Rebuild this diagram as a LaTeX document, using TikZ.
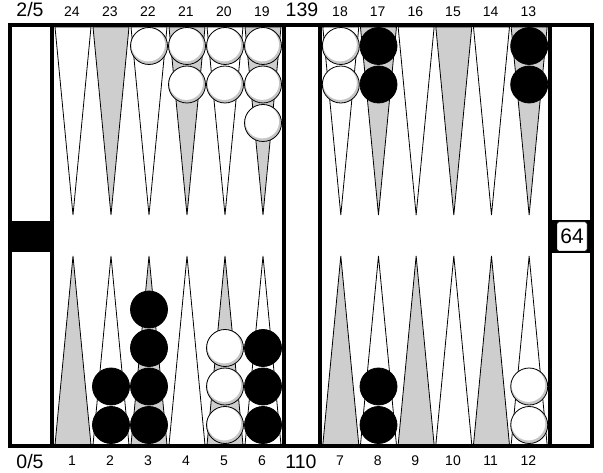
\documentclass[tikz,border=0pt]{standalone}
\usepackage{fontspec}
\setmainfont{Liberation Sans}
\definecolor{ptgray}{RGB}{206,206,206}
\begin{document}
\begin{tikzpicture}[x=1pt,y=-1pt,
  frame/.style={line width=4pt},
  tri/.style={draw=black, line width=0.8pt, line join=miter},
  wchk/.style={circle, draw=black, fill=white, line width=0.8pt, minimum size=37pt, inner sep=0pt,
    path picture={\fill[gray!45] (path picture bounding box.center) circle (18.5pt);
      \fill[white] ([shift={(-0.8pt,1.4pt)}]path picture bounding box.center) circle (16.8pt);}},
  bchk/.style={circle, draw=black, fill=black, line width=0.8pt, minimum size=37pt, inner sep=0pt},
  num/.style={font=\fontsize{14}{14}\selectfont, inner sep=0pt},
  big/.style={font=\fontsize{19.5}{20}\selectfont, inner sep=0pt}]
\useasboundingbox[fill=white] (0,0) rectangle (603,473);
% triangles
\foreach \i in {0,...,5}{
  \pgfmathsetmacro{\cx}{73+38*\i}
  \pgfmathsetmacro{\cr}{340.8+37.67*\i}
  \ifodd\i
    \def\ta{ptgray}\def\tb{white}
  \else
    \def\ta{white}\def\tb{ptgray}
  \fi
  \filldraw[tri, fill=\ta] (\cx-18,27) -- (\cx,215) -- (\cx+18,27) -- cycle;
  \filldraw[tri, fill=\ta] (\cr-18,27) -- (\cr,215) -- (\cr+18,27) -- cycle;
  \filldraw[tri, fill=\tb] (\cx-18,445) -- (\cx,256) -- (\cx+18,445) -- cycle;
  \filldraw[tri, fill=\tb] (\cr-18,445) -- (\cr,256) -- (\cr+18,445) -- cycle;
}
% point labels
\foreach \i/\t/\b in {0/24/1,1/23/2,2/22/3,3/21/4,4/20/5,5/19/6}{
  \node[num] (lt\t) at (72+38*\i,12) {\t};
  \node[num] (lb\b) at (72+38*\i,461) {\b};
}
\foreach \i/\t/\b in {0/18/7,1/17/8,2/16/9,3/15/10,4/14/11,5/13/12}{
  \node[num] (lt\t) at (340+37.67*\i,12) {\t};
  \node[num] (lb\b) at (340+37.67*\i,461) {\b};
}
\node[big] (pipT) at (302,10) {139};
\node[big] (pipB) at (301,462) {110};
\node[big] (offT) at (30,10) {2/5};
\node[big] (offB) at (30,462) {0/5};
% frame
\draw[frame] (10,25) rectangle (592,446);
\draw[frame] (52,25) -- (52,446);
\draw[frame] (284,25) -- (284,446);
\draw[frame] (320,25) -- (320,446);
\draw[frame] (550,25) -- (550,446);
% black block on the left tray
\fill (10,221) rectangle (52,252);
% cube
\fill (552,220) rectangle (592,253);
\node[draw=black, fill=white, rounded corners=2pt, minimum width=30pt, minimum height=29pt, inner sep=0pt,
  font=\fontsize{21}{21}\selectfont] (cube) at (572,236.5) {64};
% top checkers
\foreach \n/\x/\k/\s in {
  a/149/0/wchk, b/187/0/wchk, c/187/1/wchk, d/225/0/wchk, e/225/1/wchk,
  f/263/0/wchk, g/263/1/wchk, h/263/2/wchk,
  i/340.8/0/wchk, j/340.8/1/wchk, k/378.5/0/bchk, l/378.5/1/bchk,
  m/529.2/0/bchk, n/529.2/1/bchk}{
  \node[\s] (t\n) at (\x,46+38.5*\k) {};
}
% bottom checkers
\foreach \n/\x/\k/\s in {
  a/111/0/bchk, b/111/1/bchk,
  c/149/0/bchk, d/149/1/bchk, e/149/2/bchk, f/149/3/bchk,
  g/225/0/wchk, h/225/1/wchk, i/225/2/wchk,
  j/263/0/bchk, k/263/1/bchk, l/263/2/bchk,
  m/378.5/0/bchk, n/378.5/1/bchk,
  o/529.2/0/wchk, p/529.2/1/wchk}{
  \node[\s] (b\n) at (\x,425-38.5*\k) {};
}
\end{tikzpicture}
\end{document}
